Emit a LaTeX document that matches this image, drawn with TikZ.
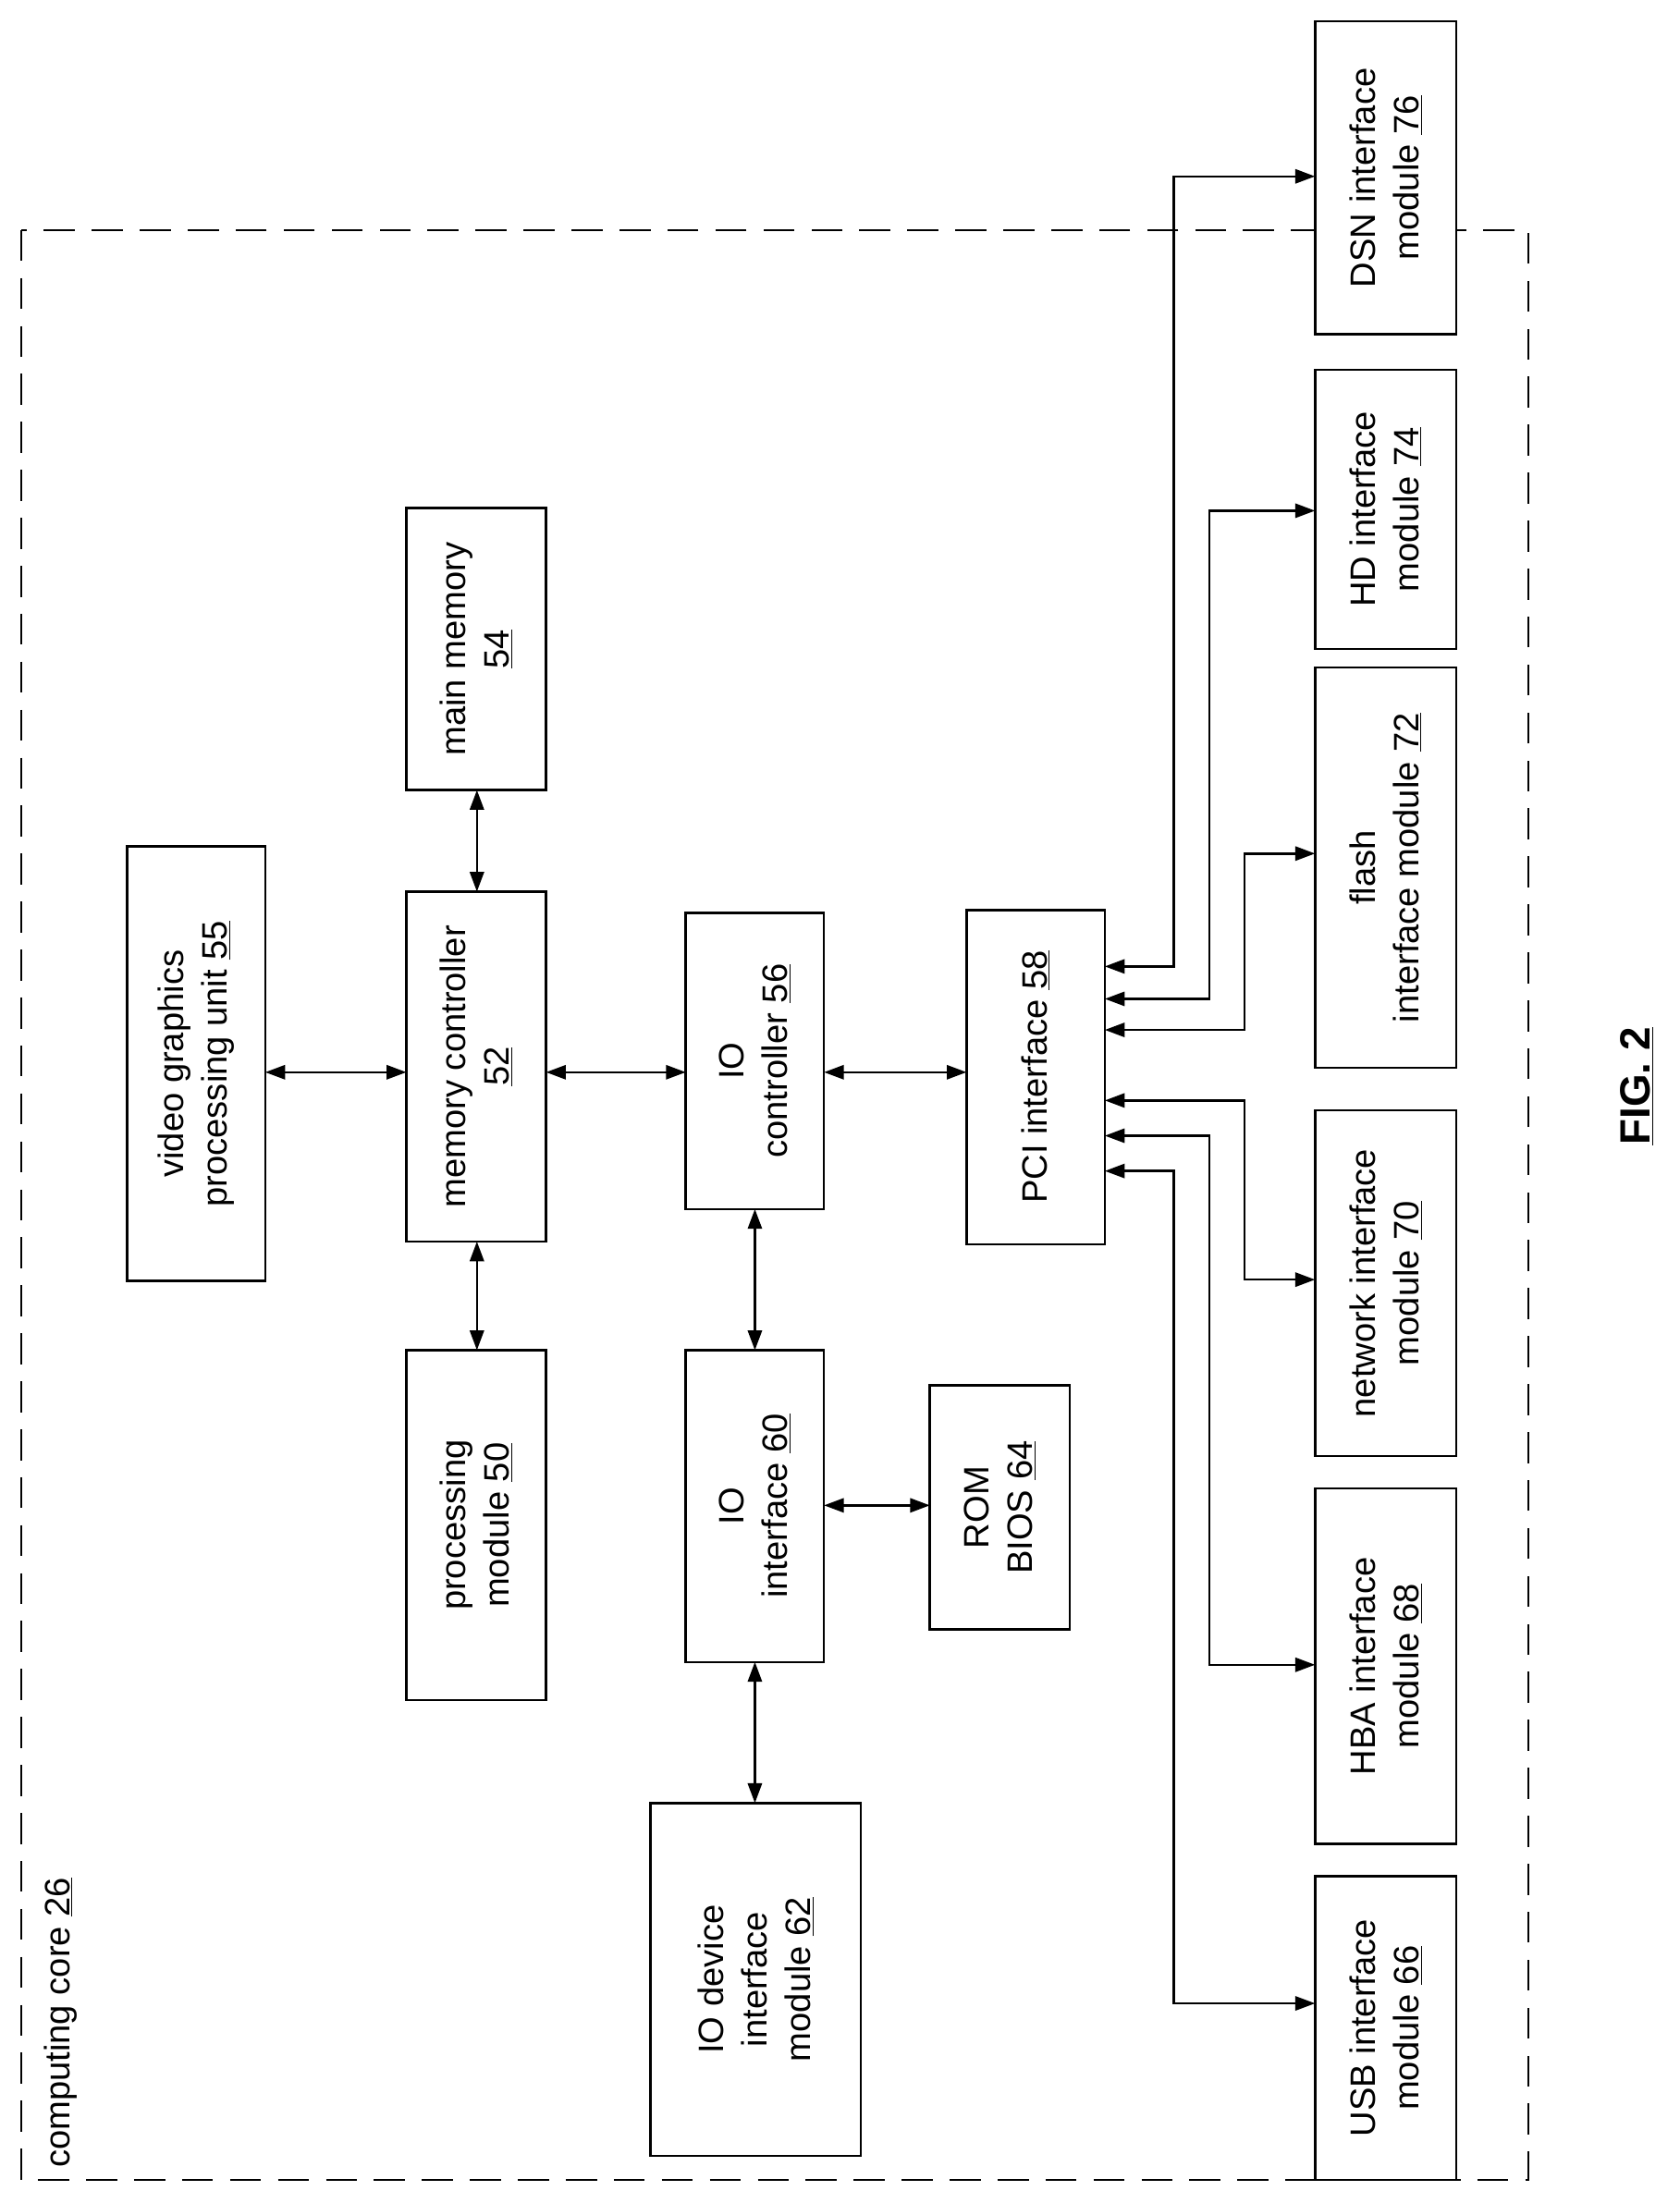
\documentclass[tikz,border=0pt]{standalone}
\usepackage{fontspec}
\setmainfont{Liberation Sans}
\usetikzlibrary{arrows.meta}
\begin{document}
\begin{tikzpicture}[x=1pt,y=-1pt,
  box/.style={draw,fill=white,line width=1.6pt,inner sep=0pt},
  lbl/.style={rotate=90,align=center,font=\fontsize{25}{31}\selectfont},
  arr/.style={line width=1.6pt,{Triangle[length=14pt,width=10pt]}-{Triangle[length=14pt,width=10pt]}}]
\useasboundingbox (0,0) rectangle (1190,1553);
\draw[line width=1.6pt,dash pattern=on 22pt off 12pt] (15,163) rectangle (1083,1545);
\newcommand{\bxt}[6]{\draw[box] (#2,#3) rectangle (#4,#5); \node[lbl] (#1) at ({(#2+#4)/2},{(#3+#5)/2}) {#6};}
\bxt{dsn}{932}{15}{1032}{237}{DSN interface\\module \underline{76}}
\bxt{hd}{932}{262}{1032}{460}{HD interface\\module \underline{74}}
\bxt{flash}{932}{473}{1032}{757}{flash\\interface module \underline{72}}
\bxt{net}{932}{787}{1032}{1032}{network interface\\module \underline{70}}
\bxt{hba}{932}{1055}{1032}{1307}{HBA interface\\module \underline{68}}
\bxt{usb}{932}{1330}{1032}{1545}{USB interface\\module \underline{66}}
\bxt{mm}{288}{360}{387}{560}{main memory\\\underline{54}}
\bxt{vg}{90}{600}{188}{908}{video graphics\\processing unit \underline{55}}
\bxt{mc}{288}{632}{387}{880}{memory controller\\\underline{52}}
\bxt{pm}{288}{957}{387}{1205}{processing\\module \underline{50}}
\bxt{ioc}{486}{647}{584}{857}{IO\\controller \underline{56}}
\bxt{pci}{685}{645}{783}{882}{PCI interface \underline{58}}
\bxt{ioi}{486}{957}{584}{1178}{IO\\interface \underline{60}}
\bxt{rom}{659}{982}{758}{1155}{ROM\\BIOS \underline{64}}
\bxt{iod}{461}{1278}{610}{1528}{IO device\\interface\\module \underline{62}}
\node[lbl,anchor=south west] (cc) at (58,1540) {computing core \underline{26}};
\node[rotate=90,font=\fontsize{30}{36}\selectfont\bfseries] (fig) at (1160,770) {\underline{FIG. 2}};
\draw[arr] (188,760) -- (288,760);
\draw[arr] (387,760) -- (486,760);
\draw[arr] (584,760) -- (685,760);
\draw[arr] (338,560) -- (338,632);
\draw[arr] (338,880) -- (338,957);
\draw[arr] (535,857) -- (535,957);
\draw[arr] (584,1067) -- (659,1067);
\draw[arr] (535,1178) -- (535,1278);
\draw[arr] (783,685) -- (832,685) -- (832,125) -- (932,125);
\draw[arr] (783,708) -- (857,708) -- (857,362) -- (932,362);
\draw[arr] (783,730) -- (882,730) -- (882,605) -- (932,605);
\draw[arr] (783,780) -- (882,780) -- (882,907) -- (932,907);
\draw[arr] (783,805) -- (857,805) -- (857,1180) -- (932,1180);
\draw[arr] (783,830) -- (832,830) -- (832,1420) -- (932,1420);
\end{tikzpicture}
\end{document}
